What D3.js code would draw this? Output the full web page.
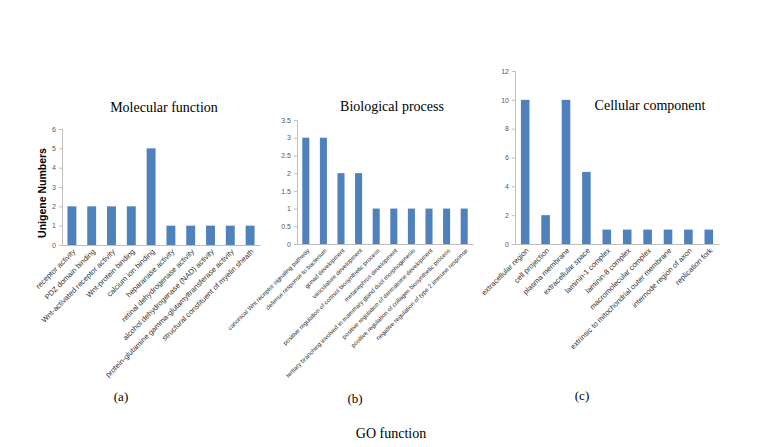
<!DOCTYPE html>
<html><head><meta charset="utf-8">
<script src="https://cdn.jsdelivr.net/npm/d3@7"></script>
<style>body{margin:0;background:#fff}svg{display:block}</style>
</head><body>
<svg id="chart" width="762" height="447"></svg>
<script>
const mfCategories = ["receptor activity","PDZ domain binding","Wnt-activated receptor activity","Wnt-protein binding","calcium ion binding","heparanase activity","retinal dehydrogenase activity","alcohol dehydrogenase (NAD) activity","protein-glutamine gamma-glutamyltransferase activity","structural constituent of myelin sheath"];
const mfValues = [2,2,2,2,5,1,1,1,1,1];
const mfTicks = [0,1,2,3,4,5,6];

const bpCategories = ["canonical Wnt receptor signaling pathway","defense response to bacterium","gonad development","vasculature development","positive regulation of cortisol biosynthetic process","metanephros development","tertiary branching involved in mammary gland duct morphogenesis","positive regulation of dermatome development","positive regulation of collagen biosynthetic process","negative regulation of type 2 immune response"];
const bpValues = [3,3,2,2,1,1,1,1,1,1];
const bpTicks = [0,0.5,1,1.5,2,2.5,3,3.5];

const ccCategories = ["extracellular region","cell projection","plasma membrane","extracellular space","laminin-1 complex","laminin-8 complex","macromolecular complex","extrinsic to mitochondrial outer membrane","internode region of axon","replication fork"];
const ccValues = [10,2,10,5,1,1,1,1,1,1];
const ccTicks = [0,2,4,6,8,10,12];

const svg = d3.select("#chart");
const barColor = "#4f81bd";
const axisColor = "#bfbfbf";

const panels = [
  {cats: mfCategories, vals: mfValues, ticks: mfTicks, x0: 62, x1: 260, y0: 245, y1: 129,
   title: "Molecular function", tx: 164, ty: 112, lab: "(a)", lx: 121, ly: 401, fs: 7.5, pin: 0.55},
  {cats: bpCategories, vals: bpValues, ticks: bpTicks, x0: 297, x1: 473, y0: 244, y1: 120,
   title: "Biological process", tx: 392, ty: 111, lab: "(b)", lx: 355, ly: 403, fs: 6.1, pin: 0.6},
  {cats: ccCategories, vals: ccValues, ticks: ccTicks, x0: 515, x1: 719, y0: 244, y1: 71,
   title: "Cellular component", tx: 650, ty: 110, lab: "(c)", lx: 582, ly: 400, fs: 7.5, pin: 0.58}
];

panels.forEach(p => {
  const x = d3.scaleBand().domain(p.cats).range([p.x0, p.x1])
    .paddingInner(p.pin).paddingOuter(p.pin / 2);
  const y = d3.scaleLinear().domain([0, d3.max(p.ticks)]).range([p.y0, p.y1]);
  const g = svg.append("g");

  const ya = g.append("g").attr("transform", `translate(${p.x0},0)`)
    .call(d3.axisLeft(y).tickValues(p.ticks).tickSize(3).tickPadding(3).tickFormat(d3.format("")));
  ya.selectAll("path,line").attr("stroke", axisColor);
  ya.selectAll("text").attr("fill", "#595959").style("font-family", "Liberation Sans, Arial, sans-serif").style("font-size", "7px");

  g.selectAll("rect").data(p.vals).enter().append("rect")
    .attr("x", (d, i) => x(p.cats[i]))
    .attr("width", x.bandwidth())
    .attr("y", d => y(d))
    .attr("height", d => y(0) - y(d))
    .attr("fill", barColor);

  const xa = g.append("g").attr("transform", `translate(0,${p.y0})`)
    .call(d3.axisBottom(x).tickSize(0).tickPadding(0).tickSizeOuter(0));
  xa.select("path").attr("stroke", axisColor);
  xa.selectAll("text")
    .attr("fill", "#333")
    .style("font-family", "Liberation Sans, Arial, sans-serif")
    .style("font-size", p.fs + "px")
    .attr("text-anchor", "end")
    .attr("dy", null).attr("y", 0)
    .attr("transform", "translate(4,7) rotate(-45)");

  svg.append("text").attr("x", p.tx).attr("y", p.ty).attr("text-anchor", "middle")
    .style("font-family", "Liberation Serif, Times New Roman, serif").style("font-size", "14px")
    .attr("fill", "#000").text(p.title);
  svg.append("text").attr("x", p.lx).attr("y", p.ly).attr("text-anchor", "middle")
    .style("font-family", "Liberation Serif, Times New Roman, serif").style("font-size", "13px")
    .attr("fill", "#000").text(p.lab);
});

svg.append("text").attr("transform", "translate(46,193) rotate(-90)").attr("text-anchor", "middle")
  .style("font-family", "Liberation Sans, Arial, sans-serif").style("font-size", "10.5px").style("font-weight", "bold")
  .attr("fill", "#000").text("Unigene Numbers");

svg.append("text").attr("x", 391).attr("y", 438).attr("text-anchor", "middle")
  .style("font-family", "Liberation Serif, Times New Roman, serif").style("font-size", "14px")
  .attr("fill", "#000").text("GO function");
</script>
</body></html>
